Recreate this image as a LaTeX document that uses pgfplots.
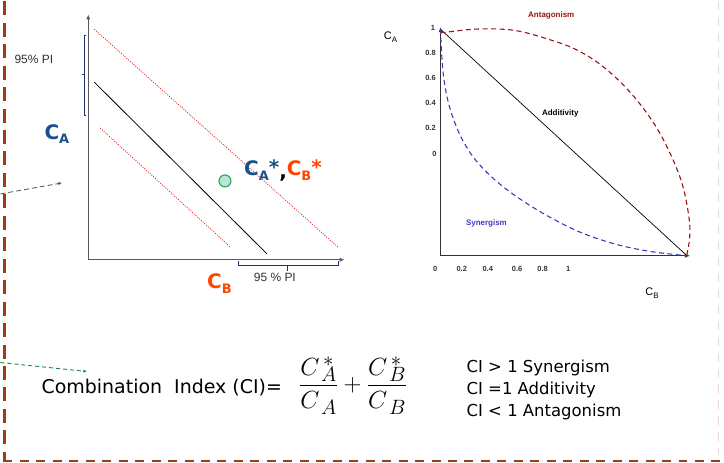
\documentclass[border=0pt]{standalone}
\usepackage{pgfplots}
\pgfplotsset{compat=1.18}
\usetikzlibrary{arrows.meta}
\usepackage{fontspec}
\setmainfont{DejaVu Sans}
\newfontfamily\arial{Liberation Sans}
\newcommand\fs[1]{\fontsize{#1}{#1}\selectfont}
\definecolor{cablue}{RGB}{25,80,140}
\definecolor{cbred}{RGB}{255,69,0}
\definecolor{brownb}{RGB}{160,60,20}
\definecolor{reddot}{RGB}{230,30,30}
\definecolor{antag}{RGB}{150,20,20}
\definecolor{syn}{RGB}{60,60,190}
\definecolor{navy}{RGB}{30,50,110}
\definecolor{gcirc}{RGB}{30,170,80}
\definecolor{gfill}{RGB}{190,225,220}
\definecolor{faint}{RGB}{235,215,205}
\begin{document}
\begin{tikzpicture}
\begin{axis}[scale only axis, width=724pt, height=462pt,
  xmin=0, xmax=724, ymin=0, ymax=462, y dir=reverse, hide axis, clip=false]
% bounding corners
\addplot[draw=none, forget plot] coordinates {(0,0) (724,462)};
% dashed frame
\addplot[brownb, line width=2.6pt, dash pattern=on 14pt off 7.5pt] coordinates {(4,0) (4,460.5)};
\addplot[brownb, line width=2.2pt, dash pattern=on 9pt off 7.5pt] coordinates {(3,460.5) (724,460.5)};
\addplot[faint, line width=1.6pt, dash pattern=on 9pt off 7pt] coordinates {(719.5,0) (719.5,455)};
% incoming arrows
\addplot[black!70, line width=0.8pt, dash pattern=on 5pt off 3pt, -{Latex[length=4pt,width=3pt]}] coordinates {(0,193) (62,182)};
\addplot[gcirc!80!black, line width=0.9pt, dash pattern=on 4pt off 3pt, -{Latex[length=4pt,width=3pt]}] coordinates {(0,362) (87,371)};
% ---------- left panel ----------
\addplot[black!65, line width=0.8pt, -{Latex[length=5pt,width=4pt]}] coordinates {(88,259) (88,13)};
\addplot[black!65, line width=0.8pt, -{Latex[length=5pt,width=4pt]}] coordinates {(88,259) (345,259)};
\addplot[black, line width=0.8pt] coordinates {(94,81) (267,253)};
\addplot[reddot, line width=0.8pt, dash pattern=on 1pt off 1.4pt] coordinates {(94,28) (339,247)};
\addplot[reddot, line width=0.8pt, dash pattern=on 1pt off 1.4pt] coordinates {(100,127) (230,246)};
% brackets
\addplot[navy, line width=0.8pt] coordinates {(86,34) (84,34) (84,114) (86,114)};
\addplot[navy, line width=0.8pt] coordinates {(84,73) (82,73)};
\addplot[navy, line width=0.8pt] coordinates {(238,260.5) (238,265) (339,265) (339,260.5)};
\addplot[navy, line width=0.8pt] coordinates {(288,265) (288,270)};
% point
\addplot[only marks, mark=*, mark size=6pt, mark options={fill=gfill, draw=gcirc, line width=1.1pt}] coordinates {(225,180)};
\node[font=\arial\fs{12}, text=black!80] at (axis cs:33.5,58.5) {95\% PI};
\node[font=\arial\fs{12}, text=black!80] at (axis cs:275,277) {95 \% PI};
\node[anchor=base west, inner sep=0pt, font=\bfseries\fs{20}, text=cablue] at (axis cs:44,138) {C\raisebox{-5pt}{\fs{13}A}};
\node[anchor=base west, inner sep=0pt, font=\bfseries\fs{20}] at (axis cs:244,175) {\textcolor{cablue}{C\raisebox{-5pt}{\fs{13}A}\raisebox{1pt}{*}}\raisebox{-3pt}{,}\textcolor{cbred}{C\raisebox{-5pt}{\fs{13}B}\raisebox{1pt}{*}}};
\node[anchor=base west, inner sep=0pt, font=\bfseries\fs{20}, text=cbred] at (axis cs:207,288) {C\raisebox{-5pt}{\fs{13}B}};
% ---------- right panel ----------
\addplot[black!80, line width=0.7pt, -{Latex[length=5pt,width=4pt]}] coordinates {(441,255) (441,26)};
\addplot[black!80, line width=0.7pt, -{Latex[length=5pt,width=4pt]}] coordinates {(441,255) (691,255)};
\addplot[black, line width=0.7pt] coordinates {(441,28) (688,255)};
\addplot[antag, line width=1.1pt, dash pattern=on 5pt off 3.5pt, smooth, tension=0.6] coordinates {
 (441,31.7) (470,28.3) (496.7,27.7) (520,30) (550,38.3) (576.7,48.3) (603.3,65) (630,90)
 (653.3,120) (670,150) (683.3,183.3) (690,216.7) (690.7,236.7) (687.7,255)};
\addplot[syn, line width=1.1pt, dash pattern=on 5pt off 3.5pt, smooth, tension=0.6] coordinates {
 (441,28) (442,50) (444,75) (448,98) (454,118) (462,137) (473,155) (487,171) (504,186)
 (525,201) (550,216) (580,231) (615,243) (650,250.5) (688,255)};
\node[font=\arial\bfseries\fs{8}, text=antag] at (axis cs:552,14.5) {Antagonism};
\node[font=\arial\bfseries\fs{8}, text=black] at (axis cs:561,112) {Additivity};
\node[font=\arial\bfseries\fs{8}, text=syn] at (axis cs:487,223) {Synergism};
\node[font=\arial\fs{11}] at (axis cs:391,36) {C\raisebox{-3pt}{\fs{8}A}};
\node[font=\arial\fs{11}] at (axis cs:653,292) {C\raisebox{-3pt}{\fs{8}B}};
% tick-like labels
\node[font=\arial\bfseries\fs{7.5}, text=black!80] at (axis cs:433.5,26.7) {1};
\node[font=\arial\bfseries\fs{7.5}, text=black!80] at (axis cs:431,51.7) {0.8};
\node[font=\arial\bfseries\fs{7.5}, text=black!80] at (axis cs:431,76.7) {0.6};
\node[font=\arial\bfseries\fs{7.5}, text=black!80] at (axis cs:431,101.7) {0.4};
\node[font=\arial\bfseries\fs{7.5}, text=black!80] at (axis cs:431,126.7) {0.2};
\node[font=\arial\bfseries\fs{7.5}, text=black!80] at (axis cs:435,152.7) {0};
\node[font=\arial\bfseries\fs{7.5}, text=black!80] at (axis cs:435.7,268.3) {0};
\node[font=\arial\bfseries\fs{7.5}, text=black!80] at (axis cs:462.3,268.3) {0.2};
\node[font=\arial\bfseries\fs{7.5}, text=black!80] at (axis cs:488.3,268.3) {0.4};
\node[font=\arial\bfseries\fs{7.5}, text=black!80] at (axis cs:517.7,268.3) {0.6};
\node[font=\arial\bfseries\fs{7.5}, text=black!80] at (axis cs:543.3,268.3) {0.8};
\node[font=\arial\bfseries\fs{7.5}, text=black!80] at (axis cs:569,268.3) {1};
% ---------- formula ----------
\node[anchor=base west, inner sep=0pt, font=\fs{19}] at (axis cs:41,393) {Combination\ \ Index (CI)=};
\node[inner sep=0pt, font=\fs{30}] at (axis cs:353.5,385) {$\displaystyle \frac{C^{\,*}_{\,A}}{C_{\,A}}+\frac{C^{\,*}_{\,B}}{C_{\,B}}$};
\node[anchor=base west, inner sep=0pt, font=\fs{16.5}] at (axis cs:467,372) {CI > 1 Synergism};
\node[anchor=base west, inner sep=0pt, font=\fs{16.5}] at (axis cs:467,394) {CI =1 Additivity};
\node[anchor=base west, inner sep=0pt, font=\fs{16.5}] at (axis cs:467,416) {CI < 1 Antagonism};
\end{axis}
\end{tikzpicture}
\end{document}
